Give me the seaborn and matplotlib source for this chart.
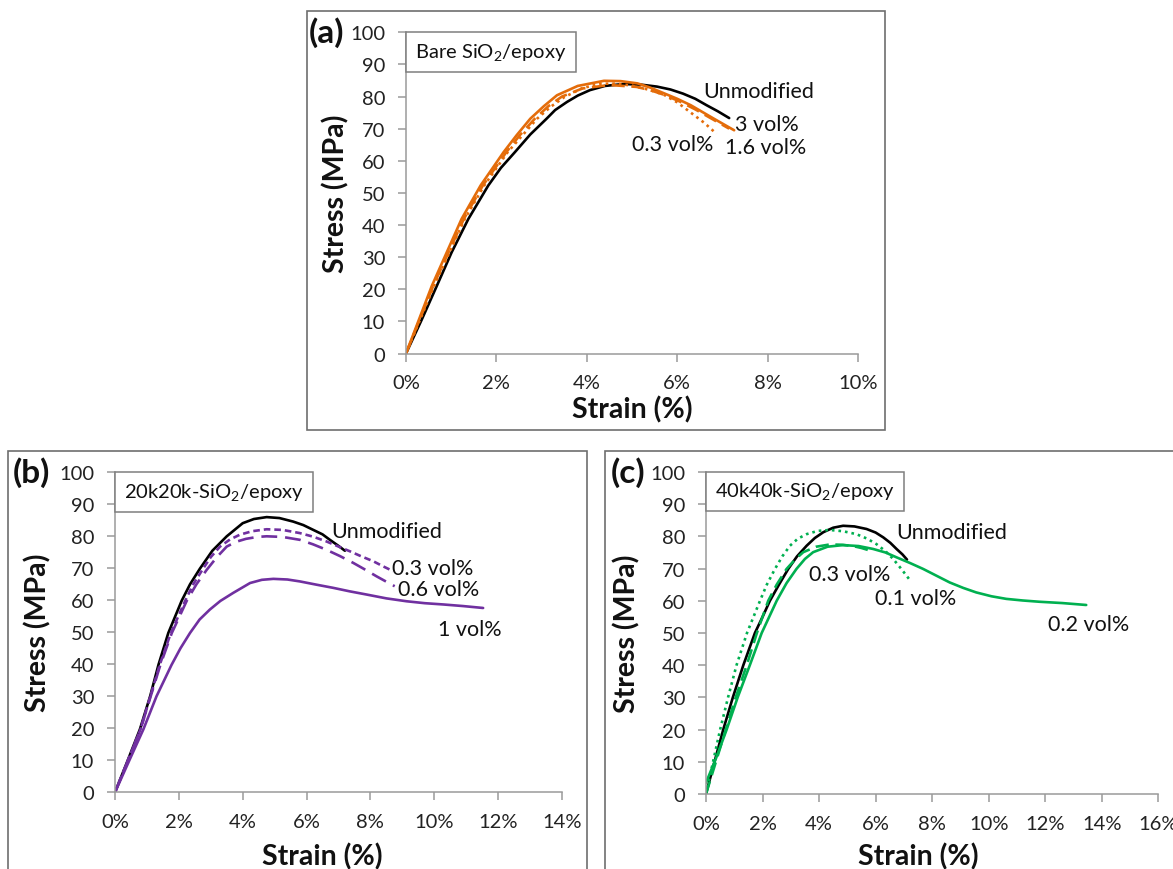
import matplotlib
matplotlib.use("Agg")

import matplotlib.pyplot as plt
import matplotlib.ticker as mticker
from matplotlib.patches import Rectangle
import seaborn as sns

# ---- panel (a): bare SiO2/epoxy ----
a_unmod_x = [0, 0.35, 0.68, 1.01, 1.38, 1.82, 2.1, 2.41, 2.75, 3.11, 3.3, 3.56, 3.8, 4.07, 4.4, 4.81,
             5.2, 5.55, 5.85, 6.13, 6.4, 6.65, 6.9, 7.15]
a_unmod_y = [0, 10.6, 21.0, 31.5, 41.9, 52.3, 57.8, 62.7, 68.2, 73.1, 75.8, 78.3, 80.3, 82.0, 83.3, 83.9,
             83.7, 83.1, 82.2, 80.9, 79.3, 77.3, 75.4, 73.3]
a_3_x = [0, 0.57, 1.23, 1.65, 2.16, 2.45, 2.75, 3.05, 3.34, 3.8, 4.38, 4.75, 5.12, 5.4, 5.71, 6.0,
         6.3, 6.8, 7.26]
a_3_y = [0, 21.0, 41.9, 52.3, 62.7, 68.0, 73.1, 77.0, 80.4, 83.3, 84.9, 84.8, 84.1, 82.8, 81.0, 79.3,
         77.3, 73.2, 69.5]
a_16_x = [0, 0.6, 1.28, 1.7, 2.22, 2.52, 2.85, 3.15, 3.45, 3.9, 4.5, 5.1, 5.4, 5.7, 6.05, 6.4, 6.8, 7.15]
a_16_y = [0, 21.0, 41.9, 52.3, 62.7, 68.0, 73.1, 77.0, 80.0, 82.5, 83.6, 83.0, 82.0, 80.6, 78.5, 76.0,
          72.8, 70.0]
a_03_x = [0, 0.62, 1.3, 1.73, 2.25, 2.9, 3.2, 3.5, 3.9, 4.3, 4.65, 5.0, 5.35, 5.7, 6.0, 6.3, 6.6, 6.87]
a_03_y = [0, 21.0, 41.9, 52.3, 62.7, 73.1, 76.8, 79.8, 82.6, 84.0, 84.0, 83.4, 82.2, 80.6, 78.2, 75.0,
          71.8, 68.4]

# ---- panel (b): 20k20k-SiO2/epoxy ----
b_unmod_x = [0, 0.4, 0.78, 1.1, 1.36, 1.67, 2.09, 2.35, 2.66, 3.05, 3.5, 4.0, 4.35, 4.75, 5.15, 5.58,
             5.9, 6.21, 6.5, 6.73, 7.0, 7.2]
b_unmod_y = [0, 10.0, 19.7, 30.0, 39.8, 49.8, 59.9, 65.0, 69.9, 75.5, 80.0, 84.1, 85.4, 86.0, 85.7, 84.6,
             83.5, 82.0, 80.6, 78.9, 77.0, 75.5]
b_03_x = [0, 0.8, 1.4, 1.75, 2.2, 2.45, 2.76, 3.0, 3.29, 3.6, 3.91, 4.3, 4.75, 5.25, 5.79, 6.2, 6.62,
          7.0, 7.36, 7.7, 8.09, 8.4, 8.71]
b_03_y = [0, 19.7, 39.8, 49.8, 59.9, 65.0, 69.9, 73.5, 76.8, 79.0, 80.5, 81.6, 82.2, 82.0, 81.0, 79.9, 78.4,
          76.8, 75.3, 73.8, 72.2, 70.6, 69.1]
b_06_x = [0, 0.8, 1.42, 1.78, 2.25, 2.55, 2.87, 3.2, 3.5, 3.8, 4.1, 4.45, 4.75, 5.25, 5.79, 6.2, 6.62,
          7.05, 7.46, 7.85, 8.19, 8.5, 8.76]
b_06_y = [0, 19.7, 39.8, 49.8, 59.9, 65.0, 69.5, 73.6, 76.8, 78.3, 79.2, 79.8, 80.0, 79.8, 78.9, 77.5, 75.8,
          73.8, 71.7, 69.5, 67.5, 65.8, 64.4]
b_1_x = [0, 0.45, 0.89, 1.3, 1.77, 2.05, 2.35, 2.65, 2.97, 3.3, 3.7, 4.23, 4.6, 4.96, 5.4, 5.79, 6.3,
         6.83, 7.35, 7.88, 8.5, 9.13, 9.7, 10.28, 10.9, 11.53]
b_1_y = [0, 10.0, 19.7, 30.0, 39.8, 45.0, 49.8, 54.0, 57.1, 59.8, 62.3, 65.4, 66.4, 66.7, 66.5, 65.9, 64.9,
         63.9, 62.8, 61.8, 60.6, 59.7, 59.1, 58.7, 58.2, 57.6]

# ---- panel (c): 40k40k-SiO2/epoxy ----
c_unmod_x = [0, 0.3, 0.61, 0.95, 1.32, 1.73, 2.0, 2.26, 2.58, 2.91, 3.22, 3.56, 3.85, 4.15, 4.5, 4.85,
             5.25, 5.68, 6.0, 6.27, 6.52, 6.74, 6.95, 7.11]
c_unmod_y = [0, 10.0, 20.0, 30.0, 40.0, 50.0, 55.0, 60.0, 65.0, 69.9, 73.8, 77.1, 79.5, 81.3, 82.7, 83.3,
             83.1, 82.3, 81.2, 79.7, 78.0, 76.1, 74.4, 72.8]
c_01_x = [0, 0.5, 0.78, 1.08, 1.45, 1.91, 2.15, 2.44, 2.7, 2.97, 3.25, 3.56, 3.95, 4.38, 4.85, 5.32,
          5.7, 6.03, 6.35, 6.62, 6.9, 7.18]
c_01_y = [0, 20.0, 30.0, 40.0, 50.0, 60.0, 65.0, 69.9, 73.8, 77.1, 79.3, 80.7, 81.7, 82.0, 81.6, 80.7,
          79.3, 77.6, 75.4, 73.0, 70.0, 66.8]
c_03_x = [0, 0.35, 0.7, 1.05, 1.44, 1.8, 2.2, 2.5, 2.85, 3.15, 3.44, 3.9, 4.38, 4.8, 5.2, 5.5, 5.8]
c_03_y = [0, 10.0, 20.0, 30.0, 40.0, 50.0, 60.0, 65.0, 69.9, 72.8, 75.1, 76.8, 77.5, 77.4, 77.0, 76.4, 75.6]
c_02_x = [0, 0.35, 0.73, 1.12, 1.55, 1.97, 2.5, 2.85, 3.2, 3.5, 3.79, 4.3, 4.85, 5.4, 5.91, 6.35, 6.74,
          7.2, 7.68, 8.15, 8.62, 9.1, 9.56, 10.1, 10.62, 11.2, 11.8, 12.6, 13.45]
c_02_y = [3.5, 11.0, 20.0, 30.0, 40.0, 50.0, 60.0, 65.5, 69.9, 73.0, 75.1, 76.8, 77.3, 77.0, 76.1, 75.0, 73.5,
          71.8, 69.9, 67.8, 65.7, 64.0, 62.6, 61.4, 60.6, 60.1, 59.7, 59.3, 58.7]

ORANGE = "#E46C0A"
PURPLE = "#7030A0"
GREEN = "#00B050"
AXCOL = "#9A9A9A"

sns.set_theme(style="white")
plt.rcParams["font.family"] = ["Lato", "DejaVu Sans"]
plt.rcParams["mathtext.fontset"] = "custom"
plt.rcParams["mathtext.rm"] = "Lato"

fig = plt.figure(figsize=(11.73, 8.70), dpi=100)

# panel frames (pixel boxes of the original figure)
W, H = 1173, 870
for x0, y0, x1, y1 in [(307, 12, 885, 431), (8, 452, 587, 880), (605, 452, 1185, 880)]:
    fig.patches.append(Rectangle((x0 / W, 1 - y1 / H), (x1 - x0) / W, (y1 - y0) / H,
                                 transform=fig.transFigure, fill=False,
                                 edgecolor="#6E6E6E", linewidth=1.2))

ax_a = fig.add_axes([406 / W, 1 - 354.5 / H, 452 / W, 321.2 / H])
ax_b = fig.add_axes([115 / W, 1 - 793.3 / H, 447 / W, 320 / H])
ax_c = fig.add_axes([706 / W, 1 - 795 / H, 452.3 / W, 322 / H])


def curve(ax, x, y, color, ls="-"):
    sns.lineplot(x=x, y=y, ax=ax, color=color, linestyle=ls, linewidth=1.9,
                 estimator=None, sort=False)


def style_axes(ax, xmax, box_text, xlab_pos, ylab_x):
    ax.set_xlim(0, xmax)
    ax.set_ylim(0, 100)
    ax.set_xticks(range(0, xmax + 1, 2))
    ax.set_yticks(range(0, 101, 10))
    ax.xaxis.set_major_formatter(mticker.FuncFormatter(lambda v, p: f"{v:.0f}%"))
    ax.patch.set_alpha(0)
    for s in ["top", "right"]:
        ax.spines[s].set_visible(False)
    for s in ["left", "bottom"]:
        ax.spines[s].set_color(AXCOL)
        ax.spines[s].set_linewidth(1.1)
    ax.tick_params(axis="both", direction="out", length=6, width=1.1, color=AXCOL,
                   labelsize=14.5, labelcolor="#222222", pad=9, left=True, bottom=True)
    ax.set_xlabel("Strain (%)", fontsize=20.5, fontweight="bold", color="#111111")
    ax.set_ylabel("Stress (MPa)", fontsize=20.5, fontweight="bold", color="#111111")
    ax.xaxis.set_label_coords(*xlab_pos)
    ax.yaxis.set_label_coords(ylab_x, 0.5)
    bw, bh = ax.get_position().width * W, ax.get_position().height * H
    ax.text(9 / bw, 1 - 9 / bh, box_text, transform=ax.transAxes, ha="left", va="top",
            fontsize=14.5, color="#111111",
            bbox=dict(boxstyle="square,pad=0.45", facecolor="white",
                      edgecolor="#7F7F7F", linewidth=1.1))


# (a)
curve(ax_a, a_unmod_x, a_unmod_y, "black")
curve(ax_a, a_3_x, a_3_y, ORANGE)
curve(ax_a, a_16_x, a_16_y, ORANGE, (0, (5, 2.5)))
curve(ax_a, a_03_x, a_03_y, ORANGE, (0, (1, 1.5)))
style_axes(ax_a, 10, r"Bare SiO$_\mathregular{2}$/epoxy", (0.5, -0.13), -0.124)
for txt, x, y in [("Unmodified", 6.57, 81.6), ("3 vol%", 7.28, 71.6),
                  ("1.6 vol%", 7.06, 64.4), ("0.3 vol%", 5.0, 65.3)]:
    ax_a.text(x, y, txt, fontsize=15.5, va="center", ha="left", color="#111111")

# (b)
curve(ax_b, b_unmod_x, b_unmod_y, "black")
curve(ax_b, b_03_x, b_03_y, PURPLE, (0, (2.5, 1.5)))
curve(ax_b, b_06_x, b_06_y, PURPLE, (0, (6, 3)))
curve(ax_b, b_1_x, b_1_y, PURPLE)
style_axes(ax_b, 14, r"20k20k-SiO$_\mathregular{2}$/epoxy", (0.463, -0.155), -0.143)
for txt, x, y in [("Unmodified", 6.76, 81.5), ("0.3 vol%", 8.66, 70.1),
                  ("0.6 vol%", 8.85, 63.5), ("1 vol%", 10.12, 51.1)]:
    ax_b.text(x, y, txt, fontsize=15.5, va="center", ha="left", color="#111111")

# (c)
curve(ax_c, c_unmod_x, c_unmod_y, "black")
curve(ax_c, c_01_x, c_01_y, GREEN, (0, (1, 1.5)))
curve(ax_c, c_03_x, c_03_y, GREEN, (0, (5, 2.5)))
curve(ax_c, c_02_x, c_02_y, GREEN)
style_axes(ax_c, 16, r"40k40k-SiO$_\mathregular{2}$/epoxy", (0.469, -0.15), -0.144)
for txt, x, y in [("Unmodified", 6.74, 81.3), ("0.3 vol%", 3.64, 68.3),
                  ("0.1 vol%", 5.97, 60.8), ("0.2 vol%", 12.1, 52.8)]:
    ax_c.text(x, y, txt, fontsize=15.5, va="center", ha="left", color="#111111")

# panel letters
for txt, px, py in [("(a)", 309, 33), ("(b)", 13, 473), ("(c)", 611, 473)]:
    fig.text(px / W, 1 - py / H, txt, fontsize=24, fontweight="bold",
             ha="left", va="center", color="#111111")

fig.savefig("out.png", dpi=100)
plt.close(fig)
